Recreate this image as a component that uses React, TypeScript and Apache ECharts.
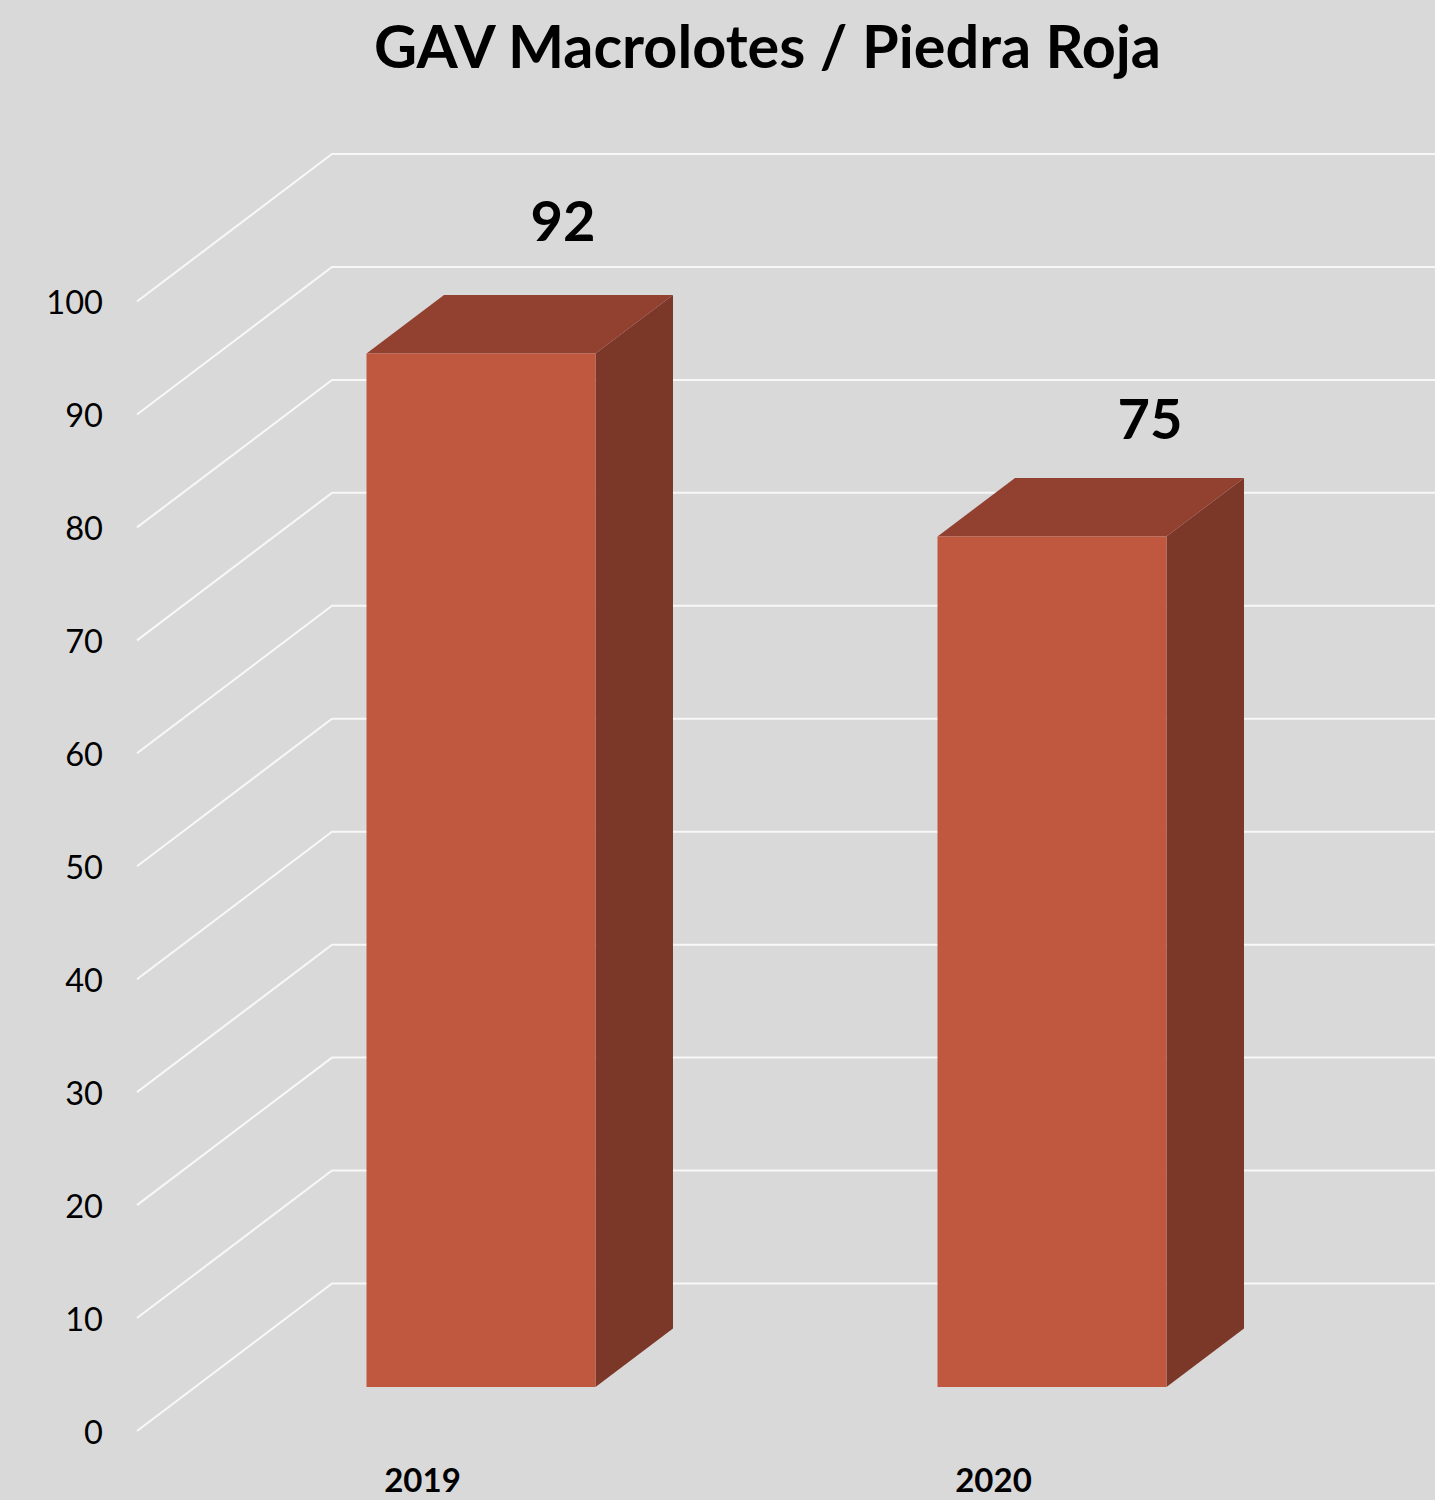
import React, { useEffect, useRef } from "react";
import * as echarts from "echarts";

const titleText = "GAV Macrolotes / Piedra Roja";
const categories = ["2019", "2020"];
const valueLabels = ["92", "75"];
// bar heights as drawn in the picture, read against the axis
const barHeights = [91.5, 75.3];
const yTicks = [0, 10, 20, 30, 40, 50, 60, 70, 80, 90, 100];

const FONT = "Lato";
const WALL_DX = 195;
const WALL_DY = 147.5;
const BAR_W = 229;
const BAR_SHIFT = 58.5;
const FLOOR_UP = 44;
const DEPTH_DX = 77.5;
const DEPTH_DY = 58.5;
const LABEL_OFFSETS = [
  [82, -134],
  [98, -119],
];

export default function App() {
  const ref = useRef<HTMLDivElement>(null);
  useEffect(() => {
    document.body.style.margin = "0";
    const chart = echarts.init(ref.current!, null, { renderer: "svg" });
    chart.setOption({
      animation: false,
      backgroundColor: "#D9D9D9",
      title: {
        text: titleText,
        left: 762.5,
        top: 10,
        textAlign: "center",
        textStyle: { fontFamily: FONT, fontWeight: "bold", fontSize: 59.4, color: "#000" },
      },
      grid: { left: 137, top: 301.5, width: 1142, height: 1129.5 },
      xAxis: {
        type: "category",
        data: categories,
        axisLine: { show: false },
        axisTick: { show: false },
        splitLine: { show: false },
        axisLabel: {
          fontFamily: FONT,
          fontWeight: "bold",
          fontSize: 33,
          color: "#000",
          margin: 31,
        },
      },
      yAxis: {
        type: "value",
        min: 0,
        max: 100,
        interval: 10,
        axisLine: { show: false },
        axisTick: { show: false },
        splitLine: { show: false },
        axisLabel: { fontFamily: FONT, fontSize: 32.6, color: "#000", margin: 34 },
      },
      series: [
        {
          type: "custom",
          silent: true,
          z: 1,
          data: yTicks.map((t) => [0, t]),
          encode: { x: 0, y: 1 },
          renderItem: (params: any, api: any) => {
            const cs = params.coordSys;
            const y = api.coord([0, api.value(1)])[1];
            return {
              type: "polyline",
              shape: {
                points: [
                  [cs.x, y],
                  [cs.x + WALL_DX, y - WALL_DY],
                  [cs.x + WALL_DX + cs.width, y - WALL_DY],
                ],
              },
              style: { fill: "none", stroke: "#F8F8F8", lineWidth: 2 },
            };
          },
        },
        {
          type: "custom",
          silent: true,
          z: 2,
          data: barHeights.map((h, i) => [i, h]),
          encode: { x: 0, y: 1 },
          renderItem: (params: any, api: any) => {
            const i = params.dataIndex;
            const top = api.coord([api.value(0), api.value(1)]);
            const base = api.coord([api.value(0), 0]);
            const l = top[0] + BAR_SHIFT - BAR_W / 2;
            const r = l + BAR_W;
            const b = base[1] - FLOOR_UP;
            const t = top[1] - FLOOR_UP;
            return {
              type: "group",
              children: [
                {
                  type: "polygon",
                  shape: { points: [[r, t], [r + DEPTH_DX, t - DEPTH_DY], [r + DEPTH_DX, b - DEPTH_DY], [r, b]] },
                  style: { fill: "#7B3728" },
                },
                {
                  type: "polygon",
                  shape: { points: [[l, t], [l + DEPTH_DX, t - DEPTH_DY], [r + DEPTH_DX, t - DEPTH_DY], [r, t]] },
                  style: { fill: "#924030" },
                },
                {
                  type: "rect",
                  shape: { x: l, y: t, width: BAR_W, height: b - t },
                  style: { fill: "#C0583F" },
                },
                {
                  type: "text",
                  x: (l + r) / 2 + LABEL_OFFSETS[i][0],
                  y: t + LABEL_OFFSETS[i][1],
                  style: {
                    text: valueLabels[i],
                    fontFamily: FONT,
                    fontWeight: "bold",
                    fontSize: 56,
                    fill: "#000",
                    align: "center",
                    verticalAlign: "middle",
                  },
                },
              ],
            };
          },
        },
      ],
    });
    return () => chart.dispose();
  }, []);
  return <div ref={ref} style={{ position: "absolute", left: 0, top: 0, width: 1435, height: 1500 }} />;
}
